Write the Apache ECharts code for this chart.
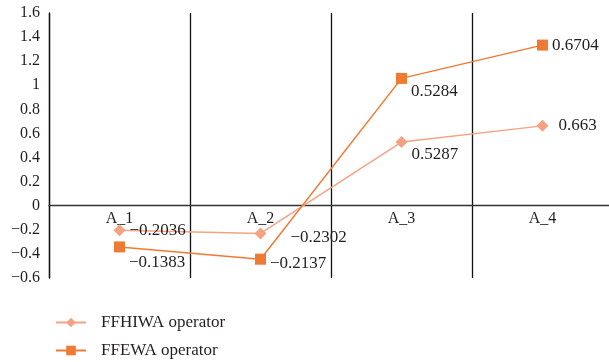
<!DOCTYPE html>
<html>
<head>
<meta charset="utf-8">
<script src="https://cdn.jsdelivr.net/npm/echarts@6/dist/echarts.min.js"></script>
<style>
  html, body { margin: 0; padding: 0; background: #fff; }
  #chart { width: 609px; height: 362px; }
</style>
</head>
<body>
<div id="chart"></div>
<script>
// Alternatives compared by the two aggregation operators
const categories = ['A_1', 'A_2', 'A_3', 'A_4'];
// Score per alternative (the second series is stacked on the first)
const ffhiwa = [-0.2036, -0.2302, 0.5287, 0.663];
const ffewa = [-0.1383, -0.2137, 0.5284, 0.6704];
const seriesNames = ['FFHIWA operator', 'FFEWA operator'];

const FONT = 'Liberation Serif';
const TEXT = '#231f20';
const fmt = v => String(v).replace('-', '\u2212');

// Per-point label placement
const ffhiwaLabelOffsets = [[0, 0], [20, 4], [0, 12], [6, 0]];
const ffewaLabelOffsets = [[0, 16], [0, 4], [0, 13], [0, 0]];

function withLabels(values, offsets) {
  return values.map((v, i) => ({
    value: v,
    label: { offset: offsets[i] }
  }));
}

const Y_MIN = -0.6, Y_MAX = 1.6, PLOT_H = 265;
// lift the category axis (line and labels) up to the zero level
const zeroOffset = -PLOT_H * (0 - Y_MIN) / (Y_MAX - Y_MIN);

// one stacked legend row per series
const legendRow = (name, top) => ({
  orient: 'vertical',
  left: 50,
  top: top,
  itemWidth: 30,
  itemHeight: 12,
  textStyle: { fontFamily: FONT, fontSize: 17, color: TEXT, padding: [0, 0, 0, 10] },
  data: [name]
});

const chart = echarts.init(document.getElementById('chart'), null, { renderer: 'canvas' });
chart.setOption({
  animation: false,
  backgroundColor: '#fff',
  textStyle: { fontFamily: FONT, color: TEXT },
  grid: { left: 49, top: 13, width: 564, height: PLOT_H, outerBoundsMode: 'none', containLabel: false },
  legend: [legendRow(seriesNames[0], 309), legendRow(seriesNames[1], 337)],
  xAxis: {
    type: 'category',
    data: categories,
    boundaryGap: true,
    position: 'bottom',
    offset: zeroOffset,
    axisLine: { onZero: false, lineStyle: { color: '#333', width: 1.3 } },
    axisTick: { show: false },
    axisLabel: { fontFamily: FONT, fontSize: 16, color: TEXT, margin: 5 },
    splitLine: { show: true, interval: 0, lineStyle: { color: '#111', width: 1.3 } }
  },
  yAxis: {
    type: 'value',
    min: Y_MIN,
    max: Y_MAX,
    interval: 0.2,
    axisLine: { show: true, lineStyle: { color: '#111', width: 1.3 } },
    axisTick: { show: false },
    splitLine: { show: false },
    axisLabel: {
      fontFamily: FONT, fontSize: 16, color: TEXT, margin: 9,
      formatter: v => fmt(parseFloat(v.toFixed(1)))
    }
  },
  series: [
    {
      name: seriesNames[0],
      type: 'line',
      stack: 'total',
      data: withLabels(ffhiwa, ffhiwaLabelOffsets),
      symbol: 'diamond',
      symbolSize: 12,
      itemStyle: { color: '#F4A283' },
      lineStyle: { color: '#F4A283', width: 1.4 },
      label: {
        show: true, position: 'right', distance: 4,
        fontFamily: FONT, fontSize: 17, color: TEXT,
        formatter: p => fmt(ffhiwa[p.dataIndex])
      }
    },
    {
      name: seriesNames[1],
      type: 'line',
      stack: 'total',
      data: withLabels(ffewa, ffewaLabelOffsets),
      symbol: 'rect',
      symbolSize: 11,
      itemStyle: { color: '#EF7A33' },
      lineStyle: { color: '#EF7A33', width: 1.5 },
      label: {
        show: true, position: 'right', distance: 4,
        fontFamily: FONT, fontSize: 17, color: TEXT,
        formatter: p => fmt(ffewa[p.dataIndex])
      }
    }
  ]
});
</script>
</body>
</html>
